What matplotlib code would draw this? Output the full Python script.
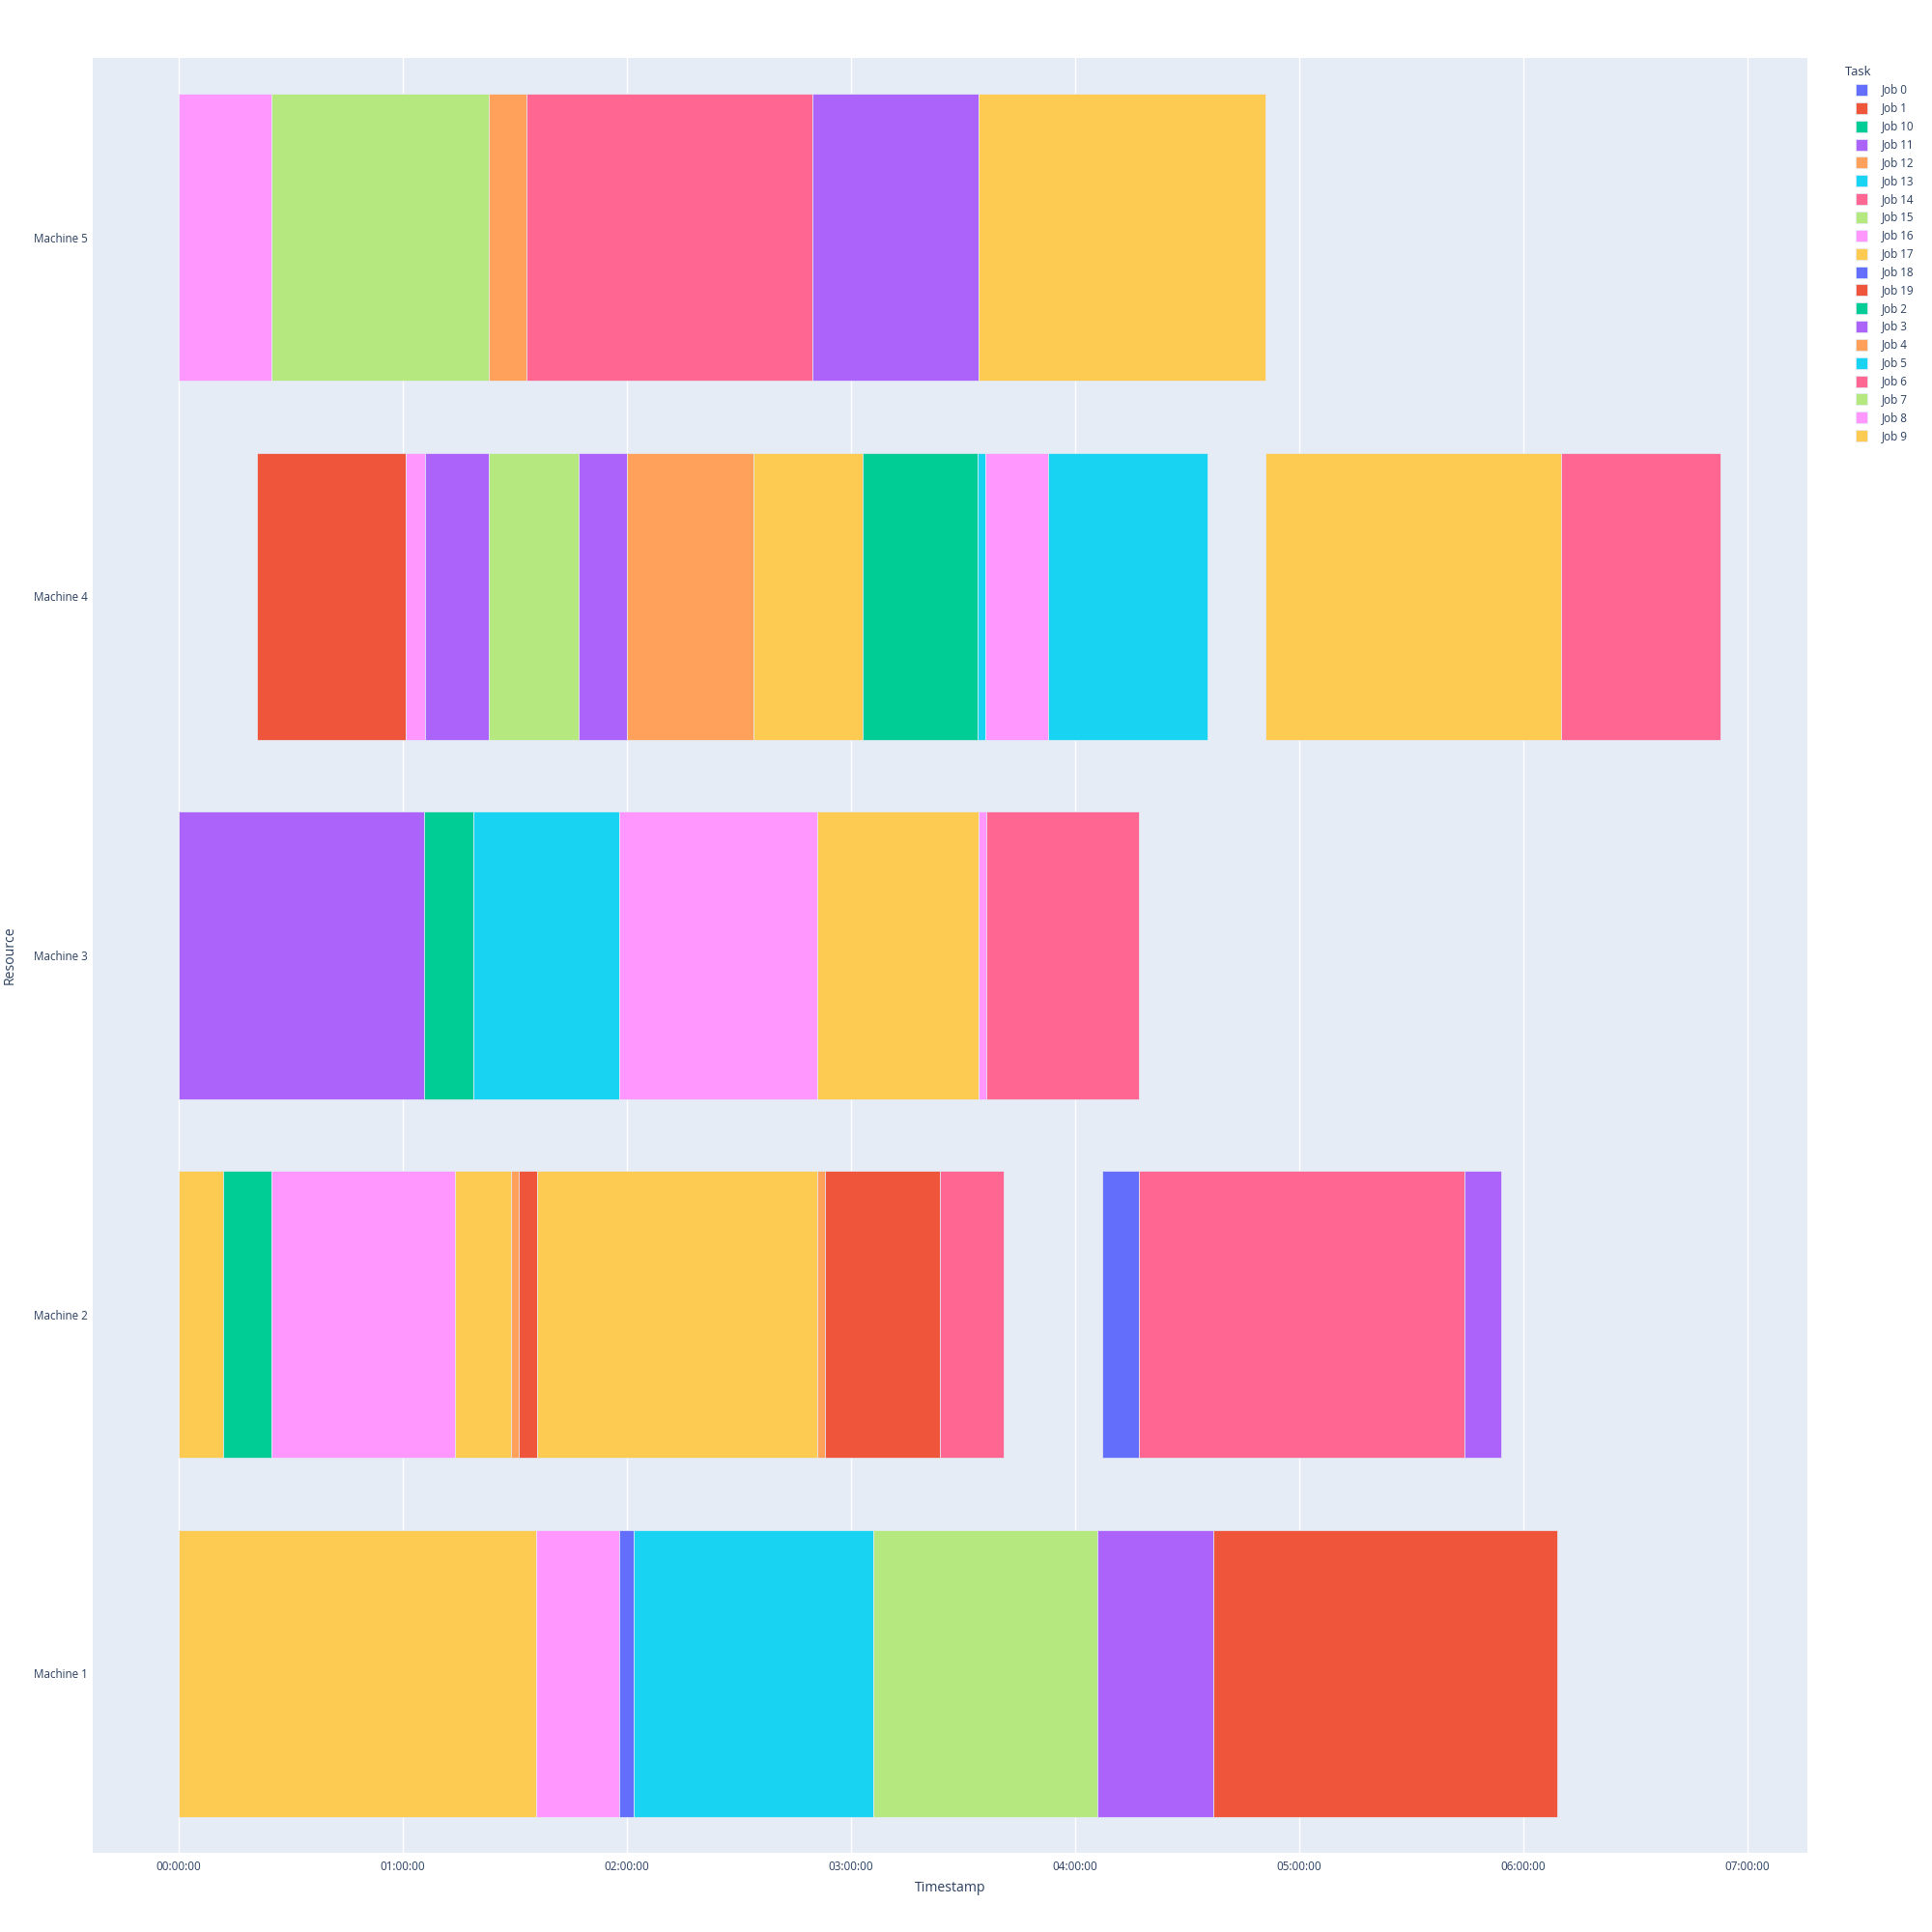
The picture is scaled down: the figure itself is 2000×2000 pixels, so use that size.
import matplotlib
matplotlib.use("Agg")
import matplotlib.pyplot as plt
from matplotlib.patches import Rectangle

# machines, bottom to top
machines = ["Machine 1", "Machine 2", "Machine 3", "Machine 4", "Machine 5"]

# one entry per operation (times in minutes)
resource = (["Machine 1"] * 7 + ["Machine 2"] * 13 + ["Machine 3"] * 7
            + ["Machine 4"] * 13 + ["Machine 5"] * 6)
task = ["Job 17", "Job 8", "Job 0", "Job 5", "Job 7", "Job 3", "Job 1",
        "Job 17", "Job 2", "Job 16", "Job 9", "Job 4", "Job 19", "Job 17",
        "Job 12", "Job 1", "Job 6", "Job 18", "Job 14", "Job 11",
        "Job 3", "Job 10", "Job 13", "Job 16", "Job 9", "Job 8", "Job 14",
        "Job 19", "Job 16", "Job 3", "Job 15", "Job 11", "Job 12", "Job 17",
        "Job 10", "Job 13", "Job 8", "Job 5", "Job 9", "Job 6",
        "Job 16", "Job 15", "Job 4", "Job 6", "Job 11", "Job 9"]
start = [0, 95.8, 118.0, 121.7, 185.9, 245.9, 276.9,
         0, 12.0, 24.9, 74.0, 89.0, 91.0, 96.0, 171.0, 173.0, 203.8, 247.1, 257.0, 344.1,
         0, 65.8, 78.9, 117.9, 170.9, 214.0, 216.2,
         20.9, 60.8, 66.0, 82.9, 107.0, 119.9, 153.9, 183.0, 213.9, 215.9, 232.7, 290.9, 370.1,
         0, 24.8, 83.1, 93.0, 169.7, 214.0]
finish = [95.8, 118.0, 121.7, 185.9, 245.9, 276.9, 368.9,
          12.0, 24.9, 74.0, 89.0, 91.0, 96.0, 171.0, 173.0, 203.8, 220.8, 257.0, 344.1, 353.9,
          65.8, 78.9, 117.9, 170.9, 214.0, 216.2, 257.0,
          60.8, 66.0, 82.9, 107.0, 119.9, 153.9, 183.0, 213.9, 215.9, 232.7, 275.5, 370.1, 412.8,
          24.8, 83.1, 93.0, 169.7, 214.0, 290.9]

legend_jobs = ["Job 0", "Job 1", "Job 10", "Job 11", "Job 12", "Job 13", "Job 14",
               "Job 15", "Job 16", "Job 17", "Job 18", "Job 19", "Job 2", "Job 3",
               "Job 4", "Job 5", "Job 6", "Job 7", "Job 8", "Job 9"]
palette = ["#636EFA", "#EF553B", "#00CC96", "#AB63FA", "#FFA15A",
           "#19D3F3", "#FF6692", "#B6E880", "#FF97FF", "#FECB52"]
job_color = {j: palette[i % 10] for i, j in enumerate(legend_jobs)}

txt = "#2a3f5f"
plt.rcParams["font.family"] = ["Open Sans", "DejaVu Sans"]

W = H = 2000
fig = plt.figure(figsize=(20, 20), dpi=100)
ax = fig.add_axes([96 / W, 1 - 1918 / H, (1871 - 96) / W, (1918 - 60) / H])
ax.set_facecolor("#E5ECF6")
for s in ax.spines.values():
    s.set_visible(False)

ypos = [machines.index(r) for r in resource]
widths = [f - s for s, f in zip(start, finish)]
cols = [job_color[t] for t in task]
ax.barh(ypos, widths, left=start, height=0.8, color=cols,
        edgecolor="#E5ECF6", linewidth=0.5, zorder=3)

ax.set_xlim(-23.0, 436.0)
ax.set_ylim(-0.5, 4.5)
ticks = list(range(0, 421, 60))
ax.set_xticks(ticks)
ax.set_xticklabels(["%02d:00:00" % (t // 60) for t in ticks])
ax.set_yticks(range(len(machines)))
ax.set_yticklabels(machines)
ax.tick_params(length=0, labelsize=8.4, colors=txt, pad=6)
ax.tick_params(axis="y", pad=4)
ax.grid(axis="x", color="white", linewidth=1, zorder=0)
ax.set_axisbelow(True)

ax.set_xlabel("Timestamp", fontsize=10.1, color=txt, va="center")
ax.xaxis.set_label_coords(0.5, -37 / 1858)
ax.set_ylabel("Resource", fontsize=10.1, color=txt, va="center")
ax.yaxis.set_label_coords(-86 / 1775, 0.5)

# legend
fig.text(1910 / W, 1 - 74 / H, "Task", fontsize=9.4, color=txt, ha="left", va="center")
for i, j in enumerate(legend_jobs):
    yc = 93 + 18.85 * i
    fig.add_artist(Rectangle((1921 / W, 1 - (yc + 6) / H), 12 / W, 12 / H,
                             transform=fig.transFigure, facecolor=job_color[j],
                             edgecolor="#E5ECF6", linewidth=0.5))
    fig.text(1948 / W, 1 - yc / H, j, fontsize=8.4, color=txt, ha="left", va="center")

fig.savefig("out.png", dpi=100)
